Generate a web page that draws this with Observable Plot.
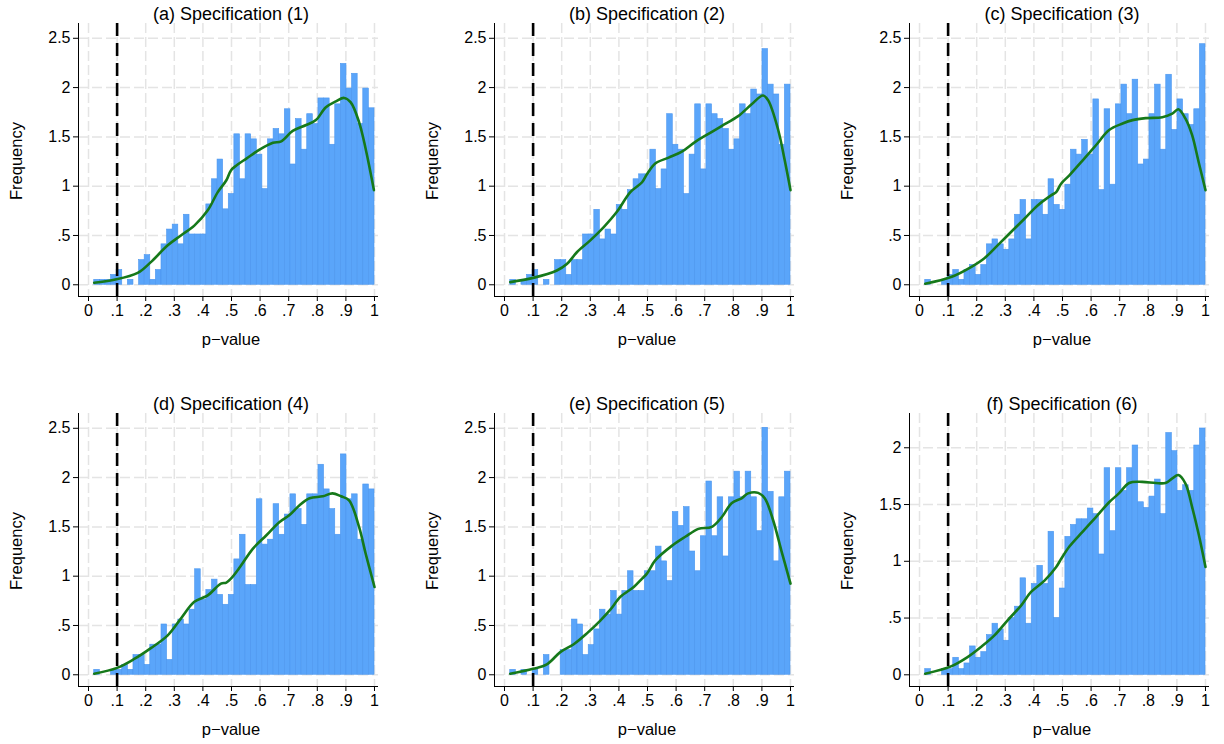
<!DOCTYPE html>
<html><head><meta charset="utf-8">
<script src="https://cdn.jsdelivr.net/npm/d3@7"></script>
<script src="https://cdn.jsdelivr.net/npm/@observablehq/plot@0.6"></script>
<style>
body{margin:0;background:#fff;font-family:"Liberation Sans",Arial,sans-serif;}
#wrap{position:relative;width:1224px;height:744px;overflow:hidden;background:#fff;}
.panel{position:absolute;width:408px;height:372px;}
.panel svg{max-width:none !important;}
.t{position:absolute;color:#000;transform:translate(-50%,-50%);white-space:nowrap;font-family:"Liberation Sans",Arial,sans-serif;}
.title{font-size:18px;}
.xlab{font-size:16.5px;}
.ylab{font-size:16.5px;transform:translate(-50%,-50%) rotate(-90deg);}
</style></head>
<body><div id="wrap"></div>
<script>
// ---- data ----
const titles = ["(a) Specification (1)", "(b) Specification (2)", "(c) Specification (3)",
                "(d) Specification (4)", "(e) Specification (5)", "(f) Specification (6)"];
const xLabel = "p\u2212value";
const yLabel = "Frequency";
const cutoff = 0.1;
const binStart = 0.02, binWidth = 0.0196;
const xTicks = [0, 0.1, 0.2, 0.3, 0.4, 0.5, 0.6, 0.7, 0.8, 0.9, 1];
const xTickLabels = ["0", ".1", ".2", ".3", ".4", ".5", ".6", ".7", ".8", ".9", "1"];
const yTicksMain = [0, 0.5, 1, 1.5, 2, 2.5];
const yTickLabelsMain = ["0", ".5", "1", "1.5", "2", "2.5"];
const yTicksF = [0, 0.5, 1, 1.5, 2];
const yTickLabelsF = ["0", ".5", "1", "1.5", "2"];

const histA = [0.05,0.05,0.05,0.10,0.15,0,0.05,0,0.25,0.30,
  0.05,0.15,0.41,0.56,0.61,0.41,0.71,0.51,0.51,0.51,
  0.815,1.07,1.27,0.765,0.92,1.526,1.07,1.526,1.475,1.32,
  0.97,1.475,1.58,1.526,1.78,1.22,1.68,1.37,1.73,1.63,
  1.89,1.89,1.42,1.83,2.24,1.99,2.14,1.63,1.99,1.79];
const histB = [0.05,0,0.05,0.10,0.15,0,0.05,0,0.25,0.25,
  0.10,0.25,0.25,0.51,0.51,0.76,0.46,0.56,0.51,0.81,
  0.76,0.96,1.07,1.12,1.12,1.37,0.97,1.17,1.73,1.42,
  1.37,0.92,1.32,1.83,1.17,1.83,1.73,1.68,1.58,1.37,
  1.475,1.83,1.73,1.98,1.93,2.39,2.03,1.93,1.42,2.03];
const histC = [0.05,0,0,0.05,0.10,0.15,0.05,0.15,0.20,0.10,
  0.20,0.41,0.46,0.41,0.355,0.46,0.71,0.86,0.46,0.86,
  0.86,0.71,1.07,0.81,0.76,1.015,1.37,1.32,1.47,1.32,
  1.88,0.96,1.78,1.015,1.83,2.03,1.73,2.08,1.22,1.27,
  1.73,2.03,1.37,2.13,1.57,1.88,1.73,1.62,1.78,2.44];
const histD = [0.05,0,0,0.05,0.05,0.10,0.05,0.20,0.20,0.10,
  0.305,0.305,0.51,0.15,0.51,0.56,0.51,0.66,1.07,0.76,
  0.86,0.965,0.81,0.71,0.81,1.17,1.42,0.91,0.91,1.78,
  1.32,1.37,1.73,1.42,1.625,1.83,1.68,1.52,1.83,1.83,
  2.13,1.88,1.68,1.42,2.235,1.78,1.83,1.37,1.93,1.88];
const histE = [0.05,0,0.05,0,0.05,0,0.20,0,0,0.25,
  0.25,0.56,0.51,0.20,0.30,0.46,0.66,0.61,0.85,0.61,
  0.85,1.05,0.85,0.85,1.05,1.05,1.30,1.15,0.95,1.65,
  1.51,1.70,1.25,1.05,1.405,1.96,1.405,1.80,1.20,1.80,
  2.06,1.80,2.06,1.80,1.456,2.505,1.855,1.15,1.80,2.06];
const histF = [0.05,0,0,0.05,0.05,0.15,0.05,0.10,0.25,0.15,
  0.20,0.35,0.45,0.40,0.30,0.50,0.60,0.85,0.45,0.80,
  0.96,0.80,1.26,0.50,0.76,1.215,1.32,1.37,1.37,1.465,
  1.415,1.06,1.82,1.265,1.82,1.62,1.82,2.02,1.52,1.47,
  1.57,1.72,1.415,2.13,1.97,1.62,1.67,1.62,2.02,2.17];

const kdeAx = [0.02,0.09,0.172,0.218,0.277,0.323,0.37,0.417,0.452,0.482,0.498,0.517,0.552,0.598,0.645,0.674,0.714,0.761,0.795,0.83,0.865,0.894,0.917,0.946,0.969,0.998];
const kdeAy = [0.02,0.05,0.12,0.23,0.40,0.50,0.60,0.755,0.94,1.06,1.16,1.21,1.28,1.37,1.44,1.455,1.56,1.62,1.67,1.80,1.86,1.895,1.85,1.65,1.38,0.96];
const kdeBx = [0.02,0.10,0.183,0.218,0.253,0.30,0.347,0.393,0.44,0.481,0.498,0.527,0.574,0.62,0.667,0.713,0.759,0.817,0.864,0.904,0.922,0.957,0.98,1.0];
const kdeBy = [0.027,0.07,0.145,0.21,0.33,0.45,0.585,0.74,0.94,1.04,1.12,1.23,1.29,1.35,1.45,1.53,1.61,1.71,1.83,1.92,1.87,1.57,1.26,0.96];
const kdeCx = [0.02,0.11,0.18,0.227,0.273,0.32,0.367,0.413,0.46,0.478,0.495,0.524,0.57,0.617,0.663,0.71,0.745,0.791,0.849,0.884,0.905,0.93,0.953,0.976,1.0];
const kdeCy = [0.01,0.078,0.18,0.27,0.40,0.535,0.67,0.805,0.907,0.94,1.025,1.11,1.26,1.415,1.57,1.635,1.67,1.69,1.70,1.735,1.78,1.685,1.52,1.245,0.96];
const kdeDx = [0.02,0.10,0.16,0.218,0.277,0.323,0.37,0.417,0.463,0.482,0.498,0.529,0.575,0.622,0.668,0.703,0.738,0.773,0.819,0.853,0.883,0.911,0.946,0.969,1.0];
const kdeDy = [0.01,0.07,0.16,0.27,0.40,0.57,0.74,0.806,0.925,0.935,0.975,1.09,1.28,1.415,1.55,1.62,1.72,1.79,1.81,1.84,1.81,1.77,1.50,1.23,0.89];
const kdeEx = [0.02,0.10,0.148,0.195,0.242,0.288,0.335,0.37,0.405,0.452,0.481,0.498,0.527,0.586,0.632,0.678,0.725,0.76,0.794,0.829,0.852,0.887,0.91,0.939,0.968,1.0];
const kdeEy = [0.01,0.06,0.105,0.23,0.31,0.42,0.55,0.66,0.79,0.89,0.975,1.026,1.16,1.31,1.40,1.48,1.50,1.60,1.74,1.79,1.84,1.845,1.79,1.57,1.26,0.925];
const kdeFx = [0.02,0.11,0.168,0.215,0.262,0.308,0.355,0.39,0.437,0.478,0.495,0.524,0.57,0.617,0.663,0.698,0.733,0.779,0.826,0.86,0.884,0.905,0.93,0.953,0.976,1.0];
const kdeFy = [0.01,0.074,0.156,0.245,0.347,0.48,0.61,0.73,0.83,0.95,1.02,1.13,1.26,1.39,1.52,1.60,1.69,1.70,1.69,1.69,1.73,1.76,1.685,1.48,1.24,0.95];

// ---- layout ----
const W = 408, H = 372;
const colLeft = [0, 416, 831];
const rowTop = [0, 390];
const xDomain = [-0.035, 1.014];
const yDomainMain = [-0.119, 2.65];
const yDomainF = [-0.103, 2.302];
const font = "Liberation Sans, Arial, sans-serif";

const panels = [
  {hist: histA, kx: kdeAx, ky: kdeAy, yd: yDomainMain, yt: yTicksMain, yl: yTickLabelsMain},
  {hist: histB, kx: kdeBx, ky: kdeBy, yd: yDomainMain, yt: yTicksMain, yl: yTickLabelsMain},
  {hist: histC, kx: kdeCx, ky: kdeCy, yd: yDomainMain, yt: yTicksMain, yl: yTickLabelsMain},
  {hist: histD, kx: kdeDx, ky: kdeDy, yd: yDomainMain, yt: yTicksMain, yl: yTickLabelsMain},
  {hist: histE, kx: kdeEx, ky: kdeEy, yd: yDomainMain, yt: yTicksMain, yl: yTickLabelsMain},
  {hist: histF, kx: kdeFx, ky: kdeFy, yd: yDomainF, yt: yTicksF, yl: yTickLabelsF}
];

const wrap = document.getElementById("wrap");
const gridStyle = {stroke: "#e4e4e4", strokeOpacity: 1, strokeWidth: 1.5, strokeDasharray: "10,4"};

panels.forEach((p, k) => {
  const col = k % 3, row = Math.floor(k / 3);
  const bars = p.hist.map((h, i) => ({x1: binStart + i * binWidth, x2: binStart + (i + 1) * binWidth, h}));
  const kde = p.kx.map((x, i) => ({x, y: p.ky[i]}));
  const chart = Plot.plot({
    width: W, height: H,
    marginLeft: 78, marginRight: 30, marginTop: 23, marginBottom: 76,
    x: {domain: xDomain},
    y: {domain: p.yd},
    style: {fontFamily: font, fontSize: "16px", color: "#000", background: "transparent", overflow: "visible", maxWidth: "none"},
    marks: [
      Plot.gridX(xTicks, gridStyle),
      Plot.gridY(p.yt, gridStyle),
      Plot.rectY(bars, {x1: "x1", x2: "x2", y: "h", fill: "#5aa5fa", stroke: "#4b96ee", strokeWidth: 0.6, inset: 0}),
      Plot.ruleX([cutoff], {stroke: "#000", strokeWidth: 2.6, strokeDasharray: "13,7"}),
      Plot.line(kde, {x: "x", y: "y", stroke: "#16791a", strokeWidth: 2.6, curve: "catmull-rom"}),
      Plot.ruleX([xDomain[0]], {stroke: "#000", strokeWidth: 1}),
      Plot.ruleY([p.yd[0]], {stroke: "#000", strokeWidth: 1}),
      Plot.axisX(xTicks, {tickFormat: d => xTickLabels[xTicks.indexOf(d)], tickSize: 5, tickPadding: 3, label: null, fontSize: 16}),
      Plot.axisY(p.yt, {tickFormat: d => p.yl[p.yt.indexOf(d)], tickSize: 5, tickPadding: 3, label: null, fontSize: 16})
    ]
  });
  chart.style.maxWidth = "none";
  chart.setAttribute("width", W);
  chart.setAttribute("height", H);
  const div = document.createElement("div");
  div.className = "panel";
  div.style.left = colLeft[col] + "px";
  div.style.top = rowTop[row] + "px";
  div.appendChild(chart);
  wrap.appendChild(div);

  const cx = colLeft[col] + 231;
  const t = document.createElement("div");
  t.className = "t title"; t.textContent = titles[k];
  t.style.left = cx + "px"; t.style.top = (rowTop[row] + 14) + "px";
  wrap.appendChild(t);
  const xl = document.createElement("div");
  xl.className = "t xlab"; xl.textContent = xLabel;
  xl.style.left = cx + "px"; xl.style.top = (rowTop[row] + 339) + "px";
  wrap.appendChild(xl);
  const yl = document.createElement("div");
  yl.className = "t ylab"; yl.textContent = yLabel;
  yl.style.left = (colLeft[col] + 16) + "px"; yl.style.top = (rowTop[row] + 161) + "px";
  wrap.appendChild(yl);
});
</script>
</body></html>
